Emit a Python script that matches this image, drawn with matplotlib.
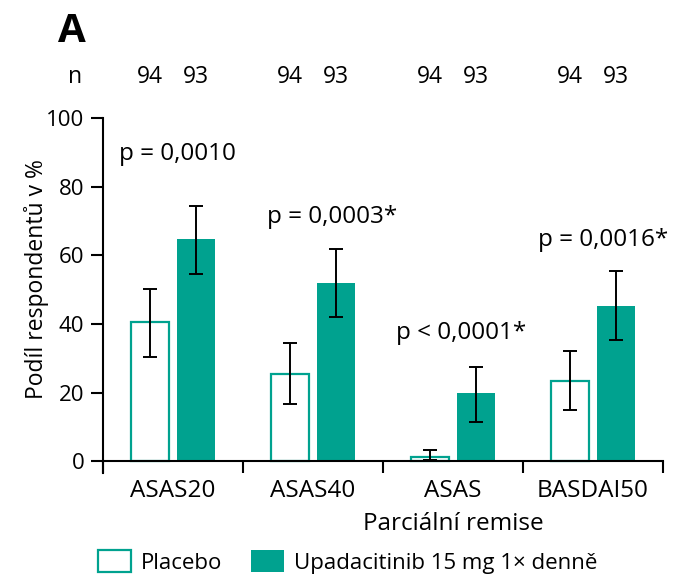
import matplotlib
matplotlib.use('Agg')
import matplotlib.pyplot as plt
import numpy as np

plt.rcParams['font.family'] = ['Open Sans', 'DejaVu Sans']

TEAL = '#00a28f'

categories = ['ASAS20', 'ASAS40', 'ASAS', 'BASDAI50']
placebo = [40.5, 25.4, 1.1, 23.4]
placebo_lo = [30.5, 16.6, 0.2, 15.0]
placebo_hi = [50.3, 34.4, 3.2, 32.0]
upa = [64.8, 52.0, 19.8, 45.2]
upa_lo = [54.5, 42.0, 11.5, 35.2]
upa_hi = [74.3, 62.0, 27.5, 55.5]
n_placebo = [94, 94, 94, 94]
n_upa = [93, 93, 93, 93]
p_labels = ['p = 0,0010', 'p = 0,0003*', 'p < 0,0001*', 'p = 0,0016*']
p_x = [0.03, 1.14, 2.06, 3.07]
p_y = [87.8, 69.4, 35.6, 62.7]

fig = plt.figure(figsize=(6.82, 5.77), dpi=100)
ax = fig.add_axes([0.151, 0.180, 0.821, 0.615])

x = np.arange(len(categories))
w = 0.27
off = 0.164

yerr_p = [np.array(placebo) - np.array(placebo_lo), np.array(placebo_hi) - np.array(placebo)]
yerr_u = [np.array(upa) - np.array(upa_lo), np.array(upa_hi) - np.array(upa)]

ax.bar(x - off, placebo, w, facecolor='white', edgecolor=TEAL, linewidth=1.6, label='Placebo')
ax.bar(x + off, upa, w, facecolor=TEAL, edgecolor=TEAL, linewidth=0, label='Upadacitinib 15 mg 1× denně')
ax.errorbar(x - off, placebo, yerr=yerr_p, fmt='none', ecolor='black', elinewidth=1.4, capsize=5, capthick=1.4)
ax.errorbar(x + off, upa, yerr=yerr_u, fmt='none', ecolor='black', elinewidth=1.4, capsize=5, capthick=1.4)

for i in range(len(categories)):
    ax.text(p_x[i], p_y[i], p_labels[i], ha='center', va='baseline', fontsize=17.5)
    ax.text(x[i] - off, 110.2, str(n_placebo[i]), ha='center', va='baseline', fontsize=16.5, clip_on=False)
    ax.text(x[i] + off, 110.2, str(n_upa[i]), ha='center', va='baseline', fontsize=16.5, clip_on=False)
    ax.text(x[i], -10.5, categories[i], ha='center', va='baseline', fontsize=17.5, clip_on=False)
ax.text(-0.7, 110.2, 'n', ha='center', va='baseline', fontsize=16.5, clip_on=False)
fig.text(0.106, 0.927, 'A', ha='center', va='baseline', fontsize=29, fontweight='bold')

ax.set_xlim(-0.5, 3.5)
ax.set_ylim(-3.5, 100)
ax.set_yticks([0, 20, 40, 60, 80, 100])
ax.set_xticks([-0.5, 0.5, 1.5, 2.5, 3.5])
ax.set_xticklabels([])
ax.spines['top'].set_visible(False)
ax.spines['right'].set_visible(False)
ax.spines['bottom'].set_position(('data', 0))
ax.spines['left'].set_linewidth(1.5)
ax.spines['bottom'].set_linewidth(1.5)
ax.tick_params(axis='both', direction='out', length=8.5, width=1.5, labelsize=16, pad=5)
ax.text(2.0, -20.1, 'Parciální remise', ha='center', va='baseline', fontsize=17.5, clip_on=False)
fig.text(37 / 682, 1 - 279 / 577, 'Podíl respondentů v %', rotation=90, ha='center', va='center', fontsize=16.5)

handles, labels = ax.get_legend_handles_labels()
fig.legend(handles, labels, loc='center left', bbox_to_anchor=(98 / 682, 1 - 562 / 577), ncol=2, frameon=False,
           fontsize=16, handlelength=1.49, handleheight=1.13, columnspacing=1.3, handletextpad=0.45,
           borderpad=0, borderaxespad=0)

fig.savefig('out.png', dpi=100)
